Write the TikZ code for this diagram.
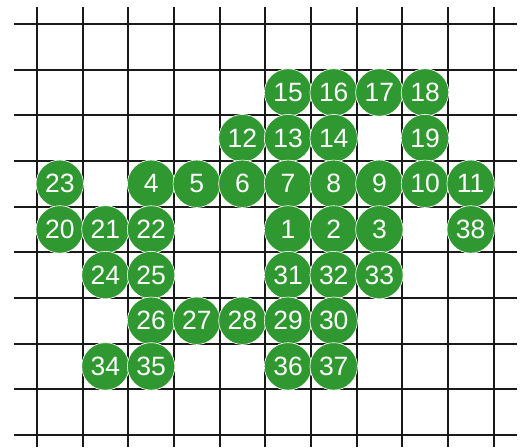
\documentclass[tikz,border=0pt]{standalone}
\usepackage{fontspec}
\setmainfont{Liberation Sans}
\definecolor{dotgreen}{RGB}{48,152,48}
\begin{document}
\begin{tikzpicture}[
  gridline/.style={draw=black!90, line width=1.25pt},
  dot/.style={circle, fill=dotgreen, draw=white, line width=0.4pt,
    minimum size=1.04cm, inner sep=0pt, text=white,
    font=\fontsize{16.5}{19}\selectfont},
]
\useasboundingbox (-0.81,0.526) rectangle (10.69,-9.27);

% Grid
\foreach \gx in {0,...,10}
  \draw[gridline] (\gx,0.37) -- (\gx,-9.27);
\foreach \gy in {0,...,9}
  \draw[gridline] (-0.5,-\gy) -- (10.51,-\gy);

% Row 1
\node[dot] (n15) at (5.5,-1.5) {15};
\node[dot] (n16) at (6.5,-1.5) {16};
\node[dot] (n17) at (7.5,-1.5) {17};
\node[dot] (n18) at (8.5,-1.5) {18};

% Row 2
\node[dot] (n12) at (4.5,-2.5) {12};
\node[dot] (n13) at (5.5,-2.5) {13};
\node[dot] (n14) at (6.5,-2.5) {14};
\node[dot] (n19) at (8.5,-2.5) {19};

% Row 3
\node[dot] (n23) at (0.5,-3.5) {23};
\node[dot] (n4) at (2.5,-3.5) {4};
\node[dot] (n5) at (3.5,-3.5) {5};
\node[dot] (n6) at (4.5,-3.5) {6};
\node[dot] (n7) at (5.5,-3.5) {7};
\node[dot] (n8) at (6.5,-3.5) {8};
\node[dot] (n9) at (7.5,-3.5) {9};
\node[dot] (n10) at (8.5,-3.5) {10};
\node[dot] (n11) at (9.5,-3.5) {11};

% Row 4
\node[dot] (n20) at (0.5,-4.5) {20};
\node[dot] (n21) at (1.5,-4.5) {21};
\node[dot] (n22) at (2.5,-4.5) {22};
\node[dot] (n1) at (5.5,-4.5) {1};
\node[dot] (n2) at (6.5,-4.5) {2};
\node[dot] (n3) at (7.5,-4.5) {3};
\node[dot] (n38) at (9.5,-4.5) {38};

% Row 5
\node[dot] (n24) at (1.5,-5.5) {24};
\node[dot] (n25) at (2.5,-5.5) {25};
\node[dot] (n31) at (5.5,-5.5) {31};
\node[dot] (n32) at (6.5,-5.5) {32};
\node[dot] (n33) at (7.5,-5.5) {33};

% Row 6
\node[dot] (n26) at (2.5,-6.5) {26};
\node[dot] (n27) at (3.5,-6.5) {27};
\node[dot] (n28) at (4.5,-6.5) {28};
\node[dot] (n29) at (5.5,-6.5) {29};
\node[dot] (n30) at (6.5,-6.5) {30};

% Row 7
\node[dot] (n34) at (1.5,-7.5) {34};
\node[dot] (n35) at (2.5,-7.5) {35};
\node[dot] (n36) at (5.5,-7.5) {36};
\node[dot] (n37) at (6.5,-7.5) {37};

\end{tikzpicture}
\end{document}
